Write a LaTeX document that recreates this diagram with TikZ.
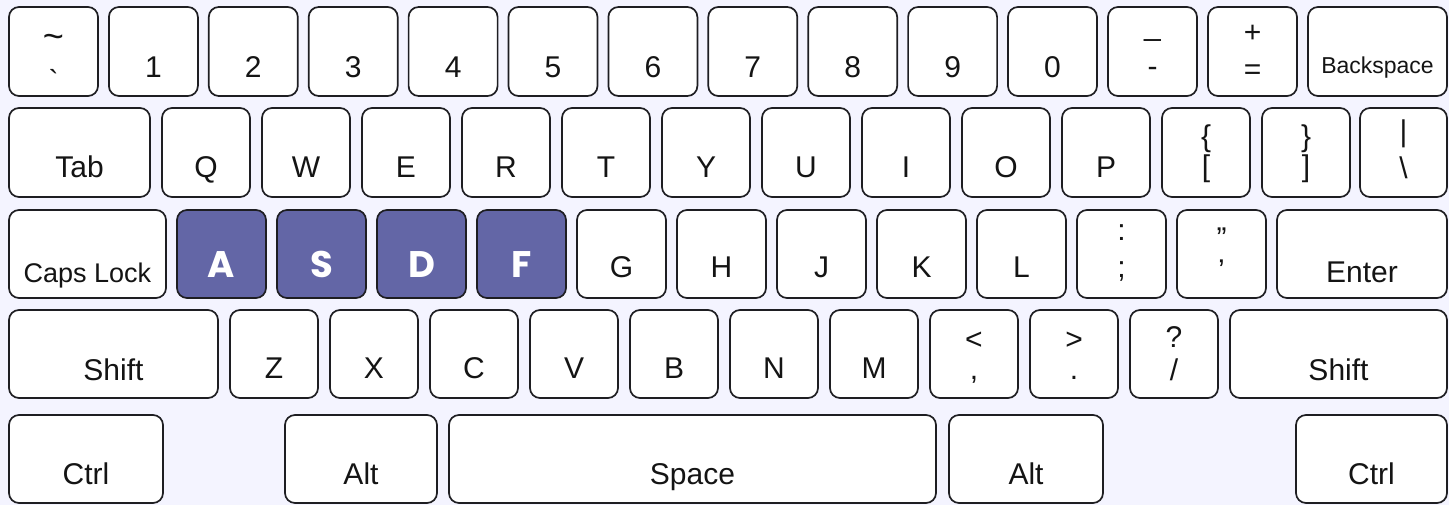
\documentclass[tikz,border=0pt]{standalone}
\usepackage{fontspec}
\setmainfont{Liberation Sans}
\newfontfamily\popfont{Poppins}
\definecolor{bg}{RGB}{244,244,255}
\definecolor{edge}{RGB}{30,30,34}
\definecolor{hl}{RGB}{99,102,166}
\definecolor{txt}{RGB}{20,20,20}
\tikzset{
  keybox/.style={draw=edge, line width=1.7pt, rounded corners=10pt, fill=white, inner sep=0pt, outer sep=0pt},
  hkeybox/.style={keybox, fill=hl},
  lab/.style={anchor=base, inner sep=0pt, outer sep=0pt, text=txt, font=\fontsize{30}{30}\selectfont},
  smalllab/.style={lab, font=\fontsize{23}{23}\selectfont},
  capslab/.style={lab, font=\fontsize{27}{27}\selectfont},
  sym/.style={anchor=north, inner sep=0pt, outer sep=0pt, text=txt, font=\fontsize{30}{30}\selectfont},
  bigsym/.style={sym, font=\fontsize{36}{36}\selectfont},
  hlab/.style={anchor=base, inner sep=0pt, outer sep=0pt, text=white, font=\popfont\bfseries\fontsize{37}{37}\selectfont},
}
\newcommand\mkkey[6][keybox]{\node[#1, minimum width={((#5)-(#3))*1pt}, minimum height={((#6)-(#4))*1pt}] (#2) at ({((#3)+(#5))/2},{((#4)+(#6))/2}) {};}
\newcommand\twolab[5]{%
  \node[sym] (#1-u) at ([yshift=-#3pt]#1.north) {#2};
  \node[sym] (#1-l) at ([yshift=-#5pt]#1.north) {#4};}
\begin{document}
\begin{tikzpicture}[x=1pt,y=-1pt]
\fill[bg] (0,0) rectangle (1449,505);
\useasboundingbox (0,0) rectangle (1449,505);
% ---------- row 1 ----------
\mkkey{tilde}{9}{7}{98}{96}
\node[bigsym] (tilde-u) at ([yshift=-27pt]tilde.north) {\textasciitilde};
\node[sym] (tilde-l) at ([yshift=-62pt]tilde.north) {\textasciigrave};
\foreach \l [count=\i] in {1,2,3,4,5,6,7,8,9,0} {
  \pgfmathsetmacro\xa{9+99.9*\i}
  \mkkey{n\l}{\xa}{7}{\xa+89}{96}
  \node[lab] (n\l-t) at ([yshift=18pt]n\l.south) {\l};
}
\mkkey{minus}{1108}{7}{1197}{96}
\twolab{minus}{\_}{29}{-}{60}
\mkkey{equal}{1208}{7}{1297}{96}
\twolab{equal}{+}{18}{=}{58}
\mkkey{bksp}{1308}{7}{1447}{96}
\node[smalllab] (bksp-t) at ([yshift=22pt]bksp.south) {Backspace};
% ---------- row 2 ----------
\mkkey{tab}{9}{108}{150}{197}
\node[lab] (tab-t) at ([yshift=19pt]tab.south) {Tab};
\foreach \l [count=\i from 0] in {Q,W,E,R,T,Y,U,I,O,P} {
  \pgfmathsetmacro\xa{162+100*\i}
  \mkkey{k\l}{\xa}{108}{\xa+88}{197}
  \node[lab] (k\l-t) at ([yshift=19pt]k\l.south) {\l};
}
\mkkey{lbrk}{1162}{108}{1250}{197}
\twolab{lbrk}{\{}{17}{[}{47}
\mkkey{rbrk}{1262}{108}{1350}{197}
\twolab{rbrk}{\}}{17}{]}{47}
\mkkey{bslash}{1360}{108}{1447}{197}
\twolab{bslash}{\textbar}{12}{\textbackslash}{49}
% ---------- row 3 ----------
\mkkey{caps}{9}{210}{166}{298}
\node[capslab] (caps-t) at ([yshift=15pt]caps.south) {Caps Lock};
\foreach \l [count=\i from 0] in {A,S,D,F} {
  \pgfmathsetmacro\xa{177+100*\i}
  \mkkey[hkeybox]{k\l}{\xa}{210}{\xa+89}{298}
  \node[hlab] (k\l-t) at ([yshift=20pt]k\l.south) {\l};
}
\foreach \l [count=\i from 4] in {G,H,J,K,L} {
  \pgfmathsetmacro\xa{177+100*\i}
  \mkkey{k\l}{\xa}{210}{\xa+89}{298}
  \node[lab] (k\l-t) at ([yshift=20pt]k\l.south) {\l};
}
\mkkey{semi}{1077}{210}{1166}{298}
\twolab{semi}{:}{15}{;}{52}
\mkkey{quote}{1177}{210}{1266}{298}
\twolab{quote}{\textquotedblright}{18}{\textquoteright}{50}
\mkkey{enter}{1277}{210}{1447}{298}
\node[lab] (enter-t) at ([yshift=15pt]enter.south) {Enter};
% ---------- row 4 ----------
\mkkey{lshift}{9}{310}{218}{398}
\node[lab] (lshift-t) at ([yshift=18pt]lshift.south) {Shift};
\foreach \l [count=\i from 0] in {Z,X,C,V,B,N,M} {
  \pgfmathsetmacro\xa{230+100*\i}
  \mkkey{k\l}{\xa}{310}{\xa+88}{398}
  \node[lab] (k\l-t) at ([yshift=20pt]k\l.south) {\l};
}
\mkkey{comma}{930}{310}{1018}{398}
\twolab{comma}{<}{22}{,}{66}
\mkkey{period}{1030}{310}{1118}{398}
\twolab{period}{>}{22}{.}{66}
\mkkey{slash}{1130}{310}{1218}{398}
\twolab{slash}{?}{17}{/}{49}
\mkkey{rshift}{1230}{310}{1447}{398}
\node[lab] (rshift-t) at ([yshift=18pt]rshift.south) {Shift};
% ---------- row 5 ----------
\mkkey{lctrl}{9}{415}{163}{503}
\node[lab] (lctrl-t) at ([yshift=19pt]lctrl.south) {Ctrl};
\mkkey{lalt}{285}{415}{437}{503}
\node[lab] (lalt-t) at ([yshift=19pt]lalt.south) {Alt};
\mkkey{space}{449}{415}{936}{503}
\node[lab] (space-t) at ([yshift=19pt]space.south) {Space};
\mkkey{ralt}{949}{415}{1103}{503}
\node[lab] (ralt-t) at ([yshift=19pt]ralt.south) {Alt};
\mkkey{rctrl}{1296}{415}{1447}{503}
\node[lab] (rctrl-t) at ([yshift=19pt]rctrl.south) {Ctrl};
\end{tikzpicture}
\end{document}
